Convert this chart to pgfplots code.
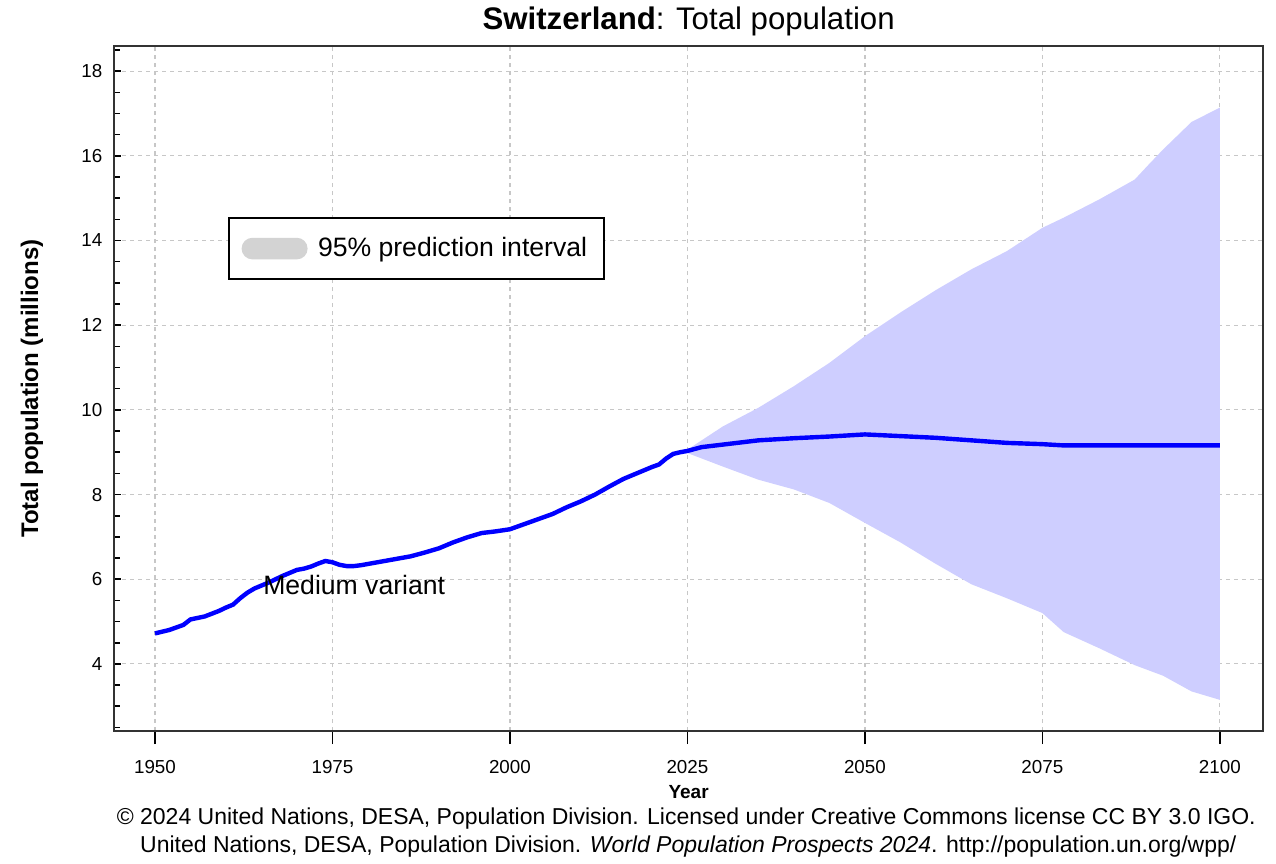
\documentclass[border=0pt]{standalone}
\usepackage{fontspec}
\setmainfont{Liberation Sans}
\usepackage{pgfplots}
\pgfplotsset{compat=1.18}
\usepgfplotslibrary{fillbetween}
\definecolor{band}{RGB}{206,206,255}
\definecolor{medline}{RGB}{0,0,255}
\definecolor{patch}{RGB}{211,211,211}

\begin{document}
\begin{tikzpicture}
\begin{axis}[
    at={(0,0)}, anchor=south west,
    scale only axis,
    width=574.3pt, height=342.5pt,
    xmin=1944.27, xmax=2106.06,
    ymin=2.41, ymax=18.59,
    xtick={1950,1975,2000,2025,2050,2075,2100},
    ytick={4,6,...,18},
    minor ytick={2.5,3,...,18.5},
    xtick pos=bottom, ytick pos=left,
    xtick align=outside, ytick align=inside,
    x tick style={black, line width=0.8pt, /pgfplots/major tick length=6.5pt},
    y tick style={black, line width=0.8pt},
    major tick length=3.5pt, minor tick length=3pt,
    grid=major,
    major grid style={dash pattern=on 2pt off 2pt, color=black!22, line width=0.6pt},
    axis line style={line width=1.2pt, color=black!80},
    /pgf/number format/assume math mode=true,
    /pgf/number format/1000 sep={},
    xticklabel style={font=\fontsize{9.4}{10}\selectfont, yshift=-7.5pt},
    yticklabel style={font=\fontsize{9.4}{10}\selectfont, xshift=-2.5pt},
    every axis title/.style={at={(rel axis cs:0.5,1)}, yshift=12.5pt, anchor=center},
    title={\fontsize{15.6}{18}\selectfont\textbf{Switzerland}: Total population},
    every axis x label/.style={at={(rel axis cs:0.5,0)}, yshift=-30.5pt, anchor=center},
    xlabel={\bfseries\fontsize{9.5}{11}\selectfont Year},
    every axis y label/.style={at={(rel axis cs:0,0.5)}, xshift=-41.15pt, rotate=90, anchor=center},
    ylabel={\bfseries\fontsize{12}{14}\selectfont Total population (millions)},
    legend style={at={(0.099,0.750)}, anchor=north west, draw=black, line width=1pt,
        fill=white, font=\fontsize{13.3}{15}\selectfont, inner xsep=6.3pt, inner ysep=7.5pt},
]

% 95% prediction interval bounds
\addplot[name path=upper, draw=none, forget plot] coordinates {
(2023,8.98) (2025,9.06) (2030,9.61) (2035,10.05) (2040,10.56) (2045,11.11)
(2050,11.74) (2055,12.30) (2060,12.83) (2065,13.32) (2070,13.75) (2075,14.30)
(2078,14.54) (2083,14.97) (2088,15.44) (2090,15.80) (2092,16.15) (2096,16.80)
(2100,17.14)
};
\addplot[name path=lower, draw=none, forget plot] coordinates {
(2023,8.98) (2025,8.98) (2030,8.66) (2035,8.35) (2040,8.12) (2045,7.80)
(2050,7.33) (2055,6.87) (2060,6.36) (2065,5.88) (2070,5.55) (2075,5.20)
(2078,4.75) (2083,4.37) (2088,3.97) (2092,3.72) (2096,3.35) (2100,3.15)
};
\addplot[band, draw=none,
    legend image code/.code={
        \fill[patch, rounded corners=5.4pt] (0pt,-5.4pt) rectangle (33pt,5.4pt);
        \path (36.2pt,0pt);}]
    fill between[of=upper and lower];
\addlegendentry{95\% prediction interval}

% medium variant
\addplot[medline, line width=2.2pt, forget plot] coordinates {
(1950,4.72) (1952,4.80) (1954,4.92) (1955,5.05) (1957,5.12) (1959,5.25)
(1960,5.33) (1961,5.40) (1962,5.55) (1963,5.68) (1964,5.78) (1965,5.85)
(1966,5.92) (1967,6.00) (1968,6.08) (1969,6.15) (1970,6.22) (1971,6.25)
(1972,6.30) (1973,6.37) (1974,6.43) (1975,6.40) (1976,6.34) (1977,6.31)
(1978,6.31) (1979,6.33) (1980,6.36) (1982,6.42) (1984,6.48) (1986,6.54)
(1988,6.63) (1990,6.73) (1992,6.87) (1994,6.99) (1996,7.09) (1998,7.13)
(2000,7.18) (2002,7.30) (2004,7.42) (2006,7.54) (2008,7.70) (2010,7.84)
(2012,8.00) (2014,8.19) (2016,8.37) (2018,8.51) (2020,8.65) (2021,8.71)
(2022,8.85) (2023,8.96) (2024,9.00) (2025,9.03) (2027,9.12) (2030,9.18)
(2035,9.28) (2040,9.33) (2045,9.37) (2050,9.42) (2055,9.38) (2060,9.34)
(2065,9.28) (2070,9.22) (2075,9.19) (2078,9.16) (2085,9.16) (2090,9.16)
(2100,9.16)
};

\node[anchor=west, inner sep=0pt, font=\fontsize{13.3}{15}\selectfont] at (axis cs:1965.2,5.86) {Medium variant};
\end{axis}

\node[font=\fontsize{11.5}{13}\selectfont] at (286pt,-43.5pt)
  {© 2024 United Nations, DESA, Population Division. Licensed under Creative Commons license CC BY 3.0 IGO.};
\node[font=\fontsize{11.5}{13}\selectfont] at (287pt,-57.5pt)
  {United Nations, DESA, Population Division. \textit{World Population Prospects 2024}. http://population.un.org/wpp/};
\path (-57.15pt,-63.5pt) rectangle (580.85pt,365pt);
\end{tikzpicture}
\end{document}
